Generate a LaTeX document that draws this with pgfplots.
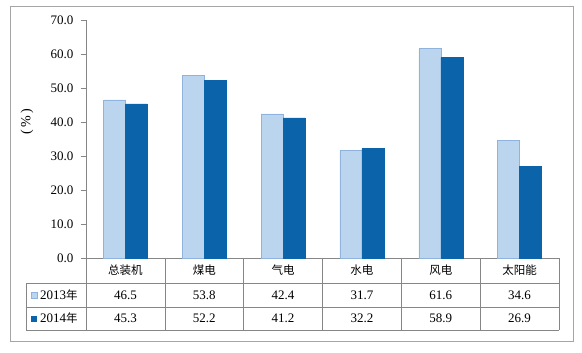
\documentclass[border=0pt]{standalone}
\usepackage{fontspec}
\setmainfont{Liberation Serif}
\newfontfamily\cjk{Noto Sans CJK SC}
\usepackage{pgfplots}
\pgfplotsset{compat=1.18}
\definecolor{lightb}{HTML}{BCD5EF}
\definecolor{lightedge}{HTML}{8FB3DC}
\definecolor{darkb}{HTML}{0B63AA}
\definecolor{linec}{HTML}{868686}
\definecolor{framec}{HTML}{A6A6A6}
\newcommand{\numf}{\fontsize{13bp}{15bp}\selectfont}
\newcommand{\zh}{\cjk\fontsize{11.5bp}{14bp}\selectfont}
\begin{document}
\begin{tikzpicture}[x=1bp,y=1bp]
\path (-86,-94) rectangle (496,258);
\draw[framec, line width=0.8bp] (-76,-83) rectangle (487,252);
\begin{axis}[
  scale only axis, width=473bp, height=238bp,
  xmin=-0.5, xmax=5.5, ymin=0, ymax=70,
  axis lines*=left,
  axis line style={linec, line width=0.6bp},
  xtick=\empty,
  ytick={0,10,...,70},
  tick style={linec, line width=0.6bp},
  tick align=outside, major tick length=5bp,
  yticklabel shift=4bp,
  /pgf/number format/assume math mode=true,
  yticklabel style={font=\numf, /pgf/number format/fixed, /pgf/number format/fixed zerofill, /pgf/number format/precision=1},
  ybar=0pt, bar width=22bp,
  clip=false,
]
\addplot[fill=lightb, draw=lightedge, line width=0.5bp] coordinates {(0,46.5)(1,53.8)(2,42.4)(3,31.7)(4,61.6)(5,34.6)};
\addplot[fill=darkb, draw=darkb, line width=0.5bp] coordinates {(0,45.3)(1,52.2)(2,41.2)(3,32.2)(4,58.9)(5,26.9)};
\end{axis}
% y label
\node[rotate=90, font=\fontsize{14bp}{16bp}\selectfont] at (-59,136) {(\,\%\,)};
% data table
\begin{scope}[linec, line width=0.6bp]
\draw (0,0) -- (0,-72);
\foreach \i in {1,...,5} \draw (\i*78.833,0) -- (\i*78.833,-72);
\draw (473,0) -- (473,-72);
\draw (-60,-25) -- (473,-25);
\draw (-60,-49) -- (473,-49);
\draw (-60,-72) -- (473,-72);
\draw (-60,-25) -- (-60,-72);
\end{scope}
\foreach \lab [count=\i from 0] in {总装机,煤电,气电,水电,风电,太阳能}
  \node[font=\zh] at ({(\i+0.5)*78.833},-12.5) {\lab};
\foreach \v [count=\i from 0] in {46.5,53.8,42.4,31.7,61.6,34.6}
  \node[font=\numf] at ({(\i+0.5)*78.833},-37) {\v};
\foreach \v [count=\i from 0] in {45.3,52.2,41.2,32.2,58.9,26.9}
  \node[font=\numf] at ({(\i+0.5)*78.833},-60.5) {\v};
% legend keys
\filldraw[fill=lightb, draw=lightedge, line width=0.4bp] (-55,-40.5) rectangle (-48.5,-34);
\node[font=\numf, anchor=west, inner sep=0pt] at (-46,-37) {2013{\zh 年}};
\fill[darkb] (-55,-64) rectangle (-48.5,-57.5);
\node[font=\numf, anchor=west, inner sep=0pt] at (-46,-60.5) {2014{\zh 年}};
\end{tikzpicture}
\end{document}
